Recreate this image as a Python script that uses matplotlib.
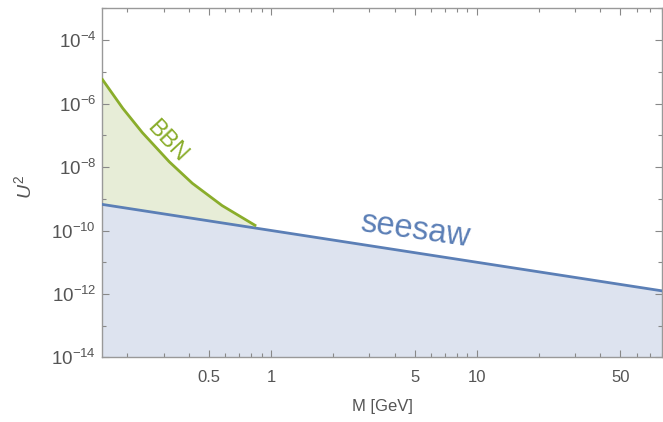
import numpy as np
import matplotlib
matplotlib.use("Agg")
import matplotlib.pyplot as plt
from matplotlib.ticker import FixedLocator, NullFormatter, FixedFormatter

plt.rcParams['font.family'] = ['Liberation Sans', 'DejaVu Sans']
plt.rcParams['mathtext.fontset'] = 'custom'
plt.rcParams['mathtext.rm'] = 'Liberation Sans'
plt.rcParams['mathtext.it'] = 'Liberation Sans:italic'

# Seesaw line (straight on log-log axes)
seesaw_M = [0.15, 80.0]
seesaw_U2 = [6.7e-10, 1.25e-12]

# BBN lower bound
bbn_M = [0.150, 0.190, 0.2365, 0.320, 0.414, 0.578, 0.846]
bbn_U2 = [6.2e-6, 7.1e-7, 1.22e-7, 1.46e-8, 3.08e-9, 6.1e-10, 1.39e-10]

x_major = [0.5, 1, 5, 10, 50]
x_major_labels = ['0.5', '1', '5', '10', '50']
y_major_exp = [-14, -12, -10, -8, -6, -4]
y_minor_exp = [-13, -11, -9, -7, -5, -3]

xlim = (0.15, 80.0)
ylim = (1e-14, 1e-3)

blue = '#5b7fb6'
blue_fill = '#dde3ef'
green = '#8aad2b'
green_fill = '#e7edd7'
gray = '#555555'

fig = plt.figure(figsize=(6.63, 4.22), dpi=100)
ax = fig.add_axes([0.1534, 0.153, 0.8456, 0.827])
ax.set_xscale('log')
ax.set_yscale('log')
ax.set_xlim(*xlim)
ax.set_ylim(*ylim)

# shaded regions
sM = np.array(seesaw_M)
sU = np.array(seesaw_U2)
ax.fill_between(sM, sU, ylim[0], color=blue_fill, lw=0, zorder=1)
bM = np.array(bbn_M)
bU = np.array(bbn_U2)
seesaw_at_bbn = np.exp(np.interp(np.log(bM), np.log(sM), np.log(sU)))
ax.fill_between(bM, bU, seesaw_at_bbn, color=green_fill, lw=0, zorder=1)

ax.plot(sM, sU, color=blue, lw=2.0, zorder=3, solid_capstyle='butt')
ax.plot(bM, bU, color=green, lw=2.0, zorder=3, solid_capstyle='butt',
        solid_joinstyle='round')

ax.text(0.313, 6.3e-8, 'BBN', color=green, fontsize=17, rotation=-47,
        ha='center', va='center', zorder=4)
ax.text(5.0, 1.05e-10, 'seesaw', color=blue, fontsize=23.5, rotation=-8,
        ha='center', va='center', zorder=4)

# ticks
minors = []
for d in range(-1, 2):
    for k in range(1, 10):
        v = k * 10.0 ** d
        if v not in x_major:
            minors.append(v)
ax.xaxis.set_major_locator(FixedLocator(x_major))
ax.xaxis.set_major_formatter(FixedFormatter(x_major_labels))
ax.xaxis.set_minor_locator(FixedLocator(minors))
ax.xaxis.set_minor_formatter(NullFormatter())

ax.yaxis.set_major_locator(FixedLocator([10.0 ** e for e in y_major_exp]))
ax.yaxis.set_major_formatter(FixedFormatter(
    [r'$10^{\mathregular{-%d}}$' % (-e) for e in y_major_exp]))
ax.yaxis.set_minor_locator(FixedLocator([10.0 ** e for e in y_minor_exp]))
ax.yaxis.set_minor_formatter(NullFormatter())

ax.tick_params(which='both', direction='in', top=True, right=True,
               color='#888888', labelcolor=gray, width=0.8)
ax.tick_params(which='major', length=5)
ax.tick_params(which='minor', length=3)
ax.tick_params(axis='y', which='major', pad=4, labelsize=13.5)
ax.tick_params(axis='x', which='major', pad=9, labelsize=12)

for s in ax.spines.values():
    s.set_color('#999999')
    s.set_linewidth(1.0)

ax.set_xlabel('M [GeV]', color=gray, fontsize=12, labelpad=10)
ax.set_ylabel(r'$\mathit{U}^{\mathregular{2}}$', color=gray, fontsize=14)
ax.yaxis.set_label_coords(-0.118, 0.49)

fig.savefig('out.png', dpi=100)
